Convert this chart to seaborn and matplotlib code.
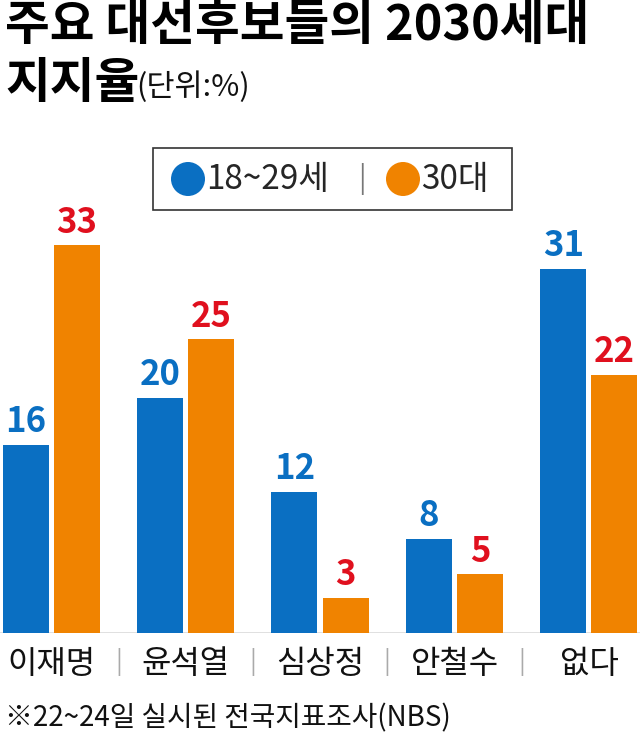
import matplotlib
matplotlib.use("Agg")
import matplotlib.pyplot as plt
from matplotlib.patches import Rectangle, Circle
import seaborn as sns
import pandas as pd

# ---- data ----
candidates = ["이재명", "윤석열", "심상정", "안철수", "없다"]
series_names = ["18~29세", "30대"]
values_1829 = [16, 20, 12, 8, 31]
values_30s = [33, 25, 3, 5, 22]

title_line1 = "주요 대선후보들의 2030세대"
title_line2 = "지지율"
unit_text = "(단위:%)"
footnote = "※22~24일 실시된 전국지표조사(NBS)"

BLUE = "#0a6fc2"
ORANGE = "#f08300"
RED = "#e0101e"

sns.set_theme(style="white")
FONT = ["Noto Sans CJK KR", "DejaVu Sans"]
plt.rcParams["font.family"] = FONT

df = pd.DataFrame({
    "후보": candidates * 2,
    "세대": [series_names[0]] * len(candidates) + [series_names[1]] * len(candidates),
    "지지율": values_1829 + values_30s,
})

W, H = 640, 738
fig = plt.figure(figsize=(W / 100, H / 100), dpi=100)
ax = fig.add_axes([0.0, (H - 633) / H, 1.0, (633 - 163) / H])

sns.barplot(data=df, x="후보", y="지지율", hue="세대", order=candidates,
            hue_order=series_names, palette=[BLUE, ORANGE],
            width=0.76, gap=0.1, saturation=1, ax=ax, legend=False,
            errorbar=None, linewidth=0)

ax.set_xlim(-0.38, 4.38)
ax.set_ylim(0, 40)
for s in ax.spines.values():
    s.set_visible(False)
ax.set_yticks([])
ax.set_xlabel("")
ax.set_ylabel("")
ax.tick_params(axis="x", length=0, pad=11)
ax.set_xticks(range(len(candidates)))
ax.set_xticklabels(candidates, fontsize=23, color="#111111")
ax.axhline(0, color="#dddddd", lw=2, zorder=0)

for cont, col in zip(ax.containers, [BLUE, RED]):
    ax.bar_label(cont, padding=4, fontsize=25, fontweight="bold", color=col,
                 fontfamily=FONT)

# overlay in pixel coordinates for decorations
ov = fig.add_axes([0, 0, 1, 1], facecolor="none")
ov.set_xlim(0, W)
ov.set_ylim(H, 0)
ov.axis("off")

# separators between category labels
for i in range(len(candidates) - 1):
    xpix = ax.transData.transform((i + 0.5, 0))[0]
    ov.text(xpix, 662, "|", ha="center", va="center", fontsize=18,
            color="#aaaaaa")

# titles
ov.text(5, 26, title_line1, fontsize=35, fontweight="bold",
        ha="left", va="center", color="#000000")
ov.text(5, 83, title_line2, fontsize=35, fontweight="bold",
        ha="left", va="center", color="#000000")
ov.text(136, 87, unit_text, fontsize=22, ha="left", va="center",
        color="#111111")

# legend box
ov.add_patch(Rectangle((153, 148), 512 - 153, 210 - 148,
                       facecolor="white", edgecolor="#333333", lw=1.2))
leg_y = 179
ov.add_patch(Circle((188, leg_y), 17, facecolor=BLUE, edgecolor="none"))
ov.text(206, leg_y, series_names[0], fontsize=24, ha="left", va="center")
ov.text(362, leg_y, "|", fontsize=20, ha="center", va="center",
        color="#777777")
ov.add_patch(Circle((403, leg_y), 17, facecolor=ORANGE, edgecolor="none"))
ov.text(421, leg_y, series_names[1], fontsize=24, ha="left", va="center")

# footnote
ov.text(5, 718, footnote, fontsize=20, ha="left", va="center",
        color="#111111")

fig.savefig("out.png", dpi=100)
